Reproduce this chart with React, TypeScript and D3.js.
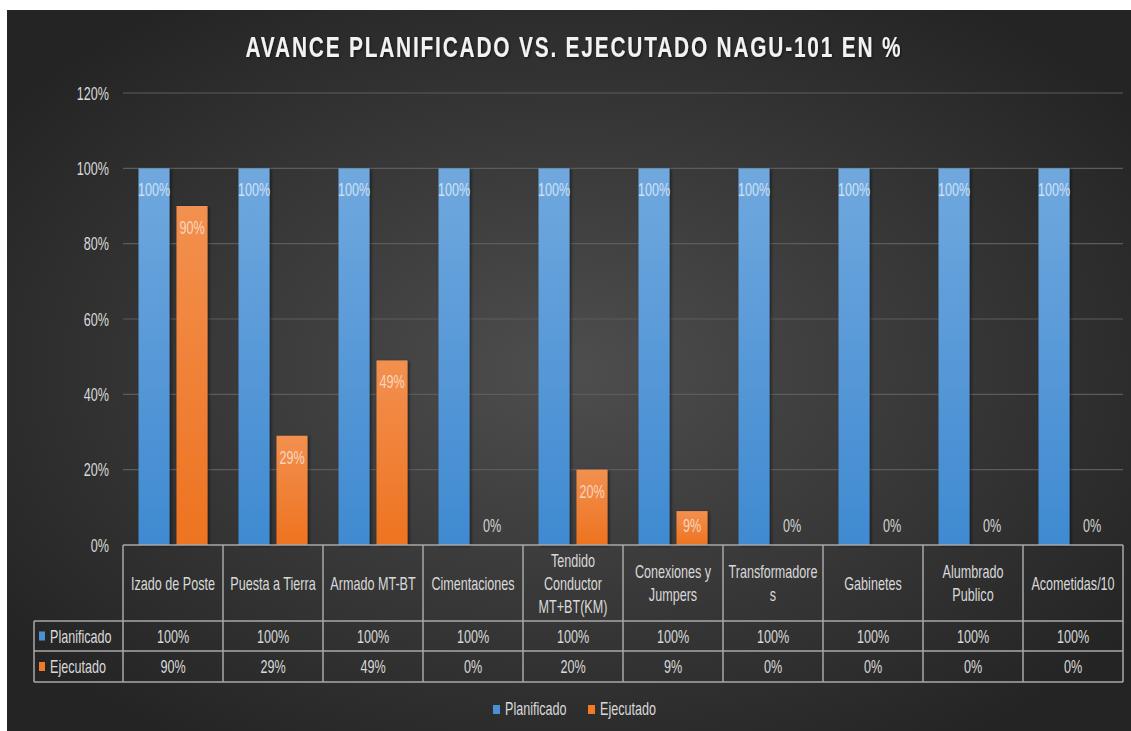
import React from 'react'
import * as d3 from 'd3'

// values
const categories = [
  'Izado de Poste',
  'Puesta a Tierra',
  'Armado MT-BT',
  'Cimentaciones',
  'Tendido\nConductor\nMT+BT(KM)',
  'Conexiones y\nJumpers',
  'Transformadore\ns',
  'Gabinetes',
  'Alumbrado\nPublico',
  'Acometidas/10'
]
const planificado = [1, 1, 1, 1, 1, 1, 1, 1, 1, 1]
const ejecutado = [0.9, 0.29, 0.49, 0, 0.2, 0.09, 0, 0, 0, 0]
const seriesNames = ['Planificado', 'Ejecutado']
const yTicks = [0, 0.2, 0.4, 0.6, 0.8, 1, 1.2]
const title = 'AVANCE PLANIFICADO VS. EJECUTADO NAGU-101 EN %'

const FONT = "'Liberation Sans', Arial, sans-serif"
const SQUEEZE = 0.7

class Chart extends React.Component<any> {
  root: HTMLDivElement | null = null

  componentDidMount () {
    this.createChart()
  }

  componentWillUnmount () {
    d3.select(this.root).selectAll('*').remove()
  }

  createChart () {
    const width = 1131
    const height = 731
    const svg = d3.select(this.root).append('svg')
      .attr('width', width)
      .attr('height', height)
      .style('position', 'absolute')
      .style('left', 0)
      .style('top', 0)
      .style('background', '#fff')

    const defs = svg.append('defs')
    const bg = defs.append('radialGradient').attr('id', 'bg')
      .attr('cx', '50%').attr('cy', '50%').attr('r', '62%')
    bg.append('stop').attr('offset', '0%').attr('stop-color', '#4e4e4e')
    bg.append('stop').attr('offset', '100%').attr('stop-color', '#242424')

    const grads = [['g0', '#70a8de', '#3f8ad1'], ['g1', '#f2904f', '#ee7320']]
    grads.forEach(([id, top, bottom]) => {
      const lg = defs.append('linearGradient').attr('id', id)
        .attr('x1', 0).attr('y1', 0).attr('x2', 0).attr('y2', 1)
      lg.append('stop').attr('offset', '0%').attr('stop-color', top)
      lg.append('stop').attr('offset', '100%').attr('stop-color', bottom)
    })
    const seriesColor = ['#4a90d6', '#f07a28']

    const shadow = defs.append('filter').attr('id', 'shadow')
      .attr('x', '-20%').attr('y', '-10%').attr('width', '150%').attr('height', '130%')
    shadow.append('feDropShadow').attr('dx', 1.5).attr('dy', 1)
      .attr('stdDeviation', 1.5).attr('flood-color', '#000').attr('flood-opacity', 0.55)

    svg.append('rect')
      .attr('x', 7).attr('y', 10)
      .attr('width', width - 7).attr('height', height - 10)
      .attr('fill', 'url(#bg)')

    // squeezed text helper (the source font is narrow)
    const addText = (g: any, x: number, y: number, str: string, fill: string, anchor = 'middle', size = 18) =>
      g.append('text')
        .attr('transform', `translate(${x},${y}) scale(${SQUEEZE},1)`)
        .attr('text-anchor', anchor)
        .attr('font-family', FONT)
        .attr('font-size', size)
        .attr('fill', fill)
        .text(str)

    // title: narrow glyphs, loose letter spacing
    const titleScale = 0.72
    svg.append('text')
      .attr('transform', `translate(573,57) scale(${titleScale},1)`)
      .attr('text-anchor', 'middle')
      .attr('font-family', FONT)
      .attr('font-weight', 'bold')
      .attr('font-size', 29)
      .attr('textLength', 655 / titleScale)
      .attr('lengthAdjust', 'spacing')
      .attr('fill', '#f2f2f2')
      .attr('filter', 'url(#shadow)')
      .text(title)

    const x = d3.scaleBand<number>()
      .domain(d3.range(categories.length))
      .range([123, 1123])
    const xs = d3.scaleBand<string>()
      .domain(seriesNames)
      .range([0, x.bandwidth()])
      .paddingInner(0.184)
      .paddingOuter(0.408)
    const y = d3.scaleLinear().domain([0, 1.2]).range([545, 93])
    const pct = d3.format('.0%')

    // gridlines + y labels
    const grid = svg.append('g')
    yTicks.forEach((t) => {
      if (t > 0) {
        grid.append('line')
          .attr('x1', 123).attr('x2', 1123)
          .attr('y1', y(t)).attr('y2', y(t))
          .attr('stroke', '#5c5c5c').attr('stroke-width', 1.2)
      }
      addText(grid, 109, y(t) + 6.5, pct(t), '#d9d9d9', 'end')
    })

    // bars
    const series = [planificado, ejecutado]
    const bars = svg.append('g')
    series.forEach((vals, s) => {
      bars.selectAll('.bar' + s)
        .data(vals)
        .enter()
        .append('rect')
        .attr('x', (d, i) => x(i)! + xs(seriesNames[s])!)
        .attr('y', (d) => y(d))
        .attr('width', xs.bandwidth())
        .attr('height', (d) => y(0) - y(d))
        .attr('fill', `url(#g${s})`)
        .attr('filter', 'url(#shadow)')
    })

    // data labels
    const labels = svg.append('g')
    const labelFill = ['#cfe1f4', '#fad6bf']
    series.forEach((vals, s) => {
      vals.forEach((v, i) => {
        const cx = x(i)! + xs(seriesNames[s])! + xs.bandwidth() / 2
        const by = Math.min(y(v) + 28, y(0) - 13)
        addText(labels, cx, by, pct(v), v === 0 ? '#d4d4d4' : labelFill[s])
      })
    })

    // data table
    const table = svg.append('g')
    const headTop = 545
    const headBottom = 621
    const rowH = [621, 651, 682]
    const border = '#a9a9a9'
    const hline = (x1: number, x2: number, yy: number) =>
      table.append('line').attr('x1', x1).attr('x2', x2).attr('y1', yy).attr('y2', yy)
        .attr('stroke', border).attr('stroke-width', 1.5)
    const vline = (xx: number, y1: number, y2: number) =>
      table.append('line').attr('x1', xx).attr('x2', xx).attr('y1', y1).attr('y2', y2)
        .attr('stroke', border).attr('stroke-width', 1.5)

    hline(123, 1123, headTop)
    rowH.forEach((yy) => hline(34, 1123, yy))
    vline(34, headBottom, rowH[2])
    d3.range(categories.length + 1).forEach((i) => {
      const xx = i < categories.length ? x(i)! : x.range()[1]
      vline(xx, headTop, rowH[2])
    })

    categories.forEach((c, i) => {
      const lines = c.split('\n')
      const cx = x(i)! + x.bandwidth() / 2
      const mid = (headTop + headBottom) / 2
      lines.forEach((ln, k) => {
        const ly = mid - (lines.length - 1) * 23 / 2 + k * 23 + 6.5
        addText(table, cx, ly, ln, '#d9d9d9')
      })
    })

    series.forEach((vals, s) => {
      const mid = (rowH[s] + rowH[s + 1]) / 2
      table.append('rect')
        .attr('x', 39).attr('y', mid - 4.5)
        .attr('width', 6).attr('height', 9)
        .attr('fill', seriesColor[s])
      addText(table, 50, mid + 6.5, seriesNames[s], '#d9d9d9', 'start')
      vals.forEach((v, i) => {
        addText(table, x(i)! + x.bandwidth() / 2, mid + 6.5, pct(v), '#d9d9d9')
      })
    })

    // bottom legend
    const legend = svg.append('g')
    const legendX = [493, 588]
    seriesNames.forEach((name, s) => {
      legend.append('rect')
        .attr('x', legendX[s]).attr('y', 705)
        .attr('width', 7).attr('height', 9)
        .attr('fill', seriesColor[s])
      addText(legend, legendX[s] + 12, 715, name, '#d9d9d9', 'start')
    })
  }

  render () {
    return <div ref={(el) => { this.root = el }} />
  }
}

export default function App () {
  return <Chart />
}
